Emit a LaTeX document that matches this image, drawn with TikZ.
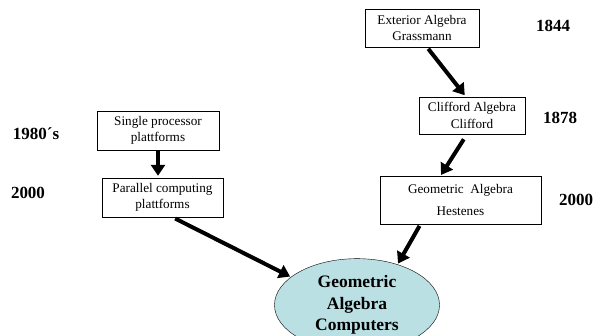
\documentclass[tikz,border=0pt]{standalone}
\usepackage{fontspec}
\setmainfont{Liberation Serif}
\usetikzlibrary{arrows.meta, positioning, shapes.geometric}
\definecolor{gacfill}{RGB}{186,224,228}
\tikzset{
    box/.style={draw, thin, fill=white, align=center, inner sep=1pt, font=\fontsize{13.2}{16.5}\selectfont},
    yearL/.style={font=\bfseries\fontsize{17}{19}\selectfont, inner sep=0pt},
    bareA/.style={line width=4pt, -{Triangle[length=11pt, width=14pt]}},
}
\begin{document}
\begin{tikzpicture}[x=1pt, y=-1pt]
    \useasboundingbox (0,0) rectangle (595,336);
    % right column
    \node[box, minimum width=114, minimum height=38] (ext) at (422,28) {Exterior Algebra\\Grassmann};
    \node[box, minimum width=106, minimum height=37] (cliff) at (472,115.5) {Clifford Algebra\\Clifford};
    \node[box, minimum width=161, minimum height=48, align=center] (hest) at (460.5,200) {Geometric\ \ Algebra\\[6pt]Hestenes};
    % left column
    \node[box, minimum width=122, minimum height=39] (single) at (158,130.5) {Single processor\\plattforms};
    \node[box, minimum width=121, minimum height=39] (para) at (162.5,197.5) {Parallel computing\\plattforms};
    % years
    \node[yearL] (y1844) at (553,26) {1844};
    \node[yearL] (y1878) at (560,118) {1878};
    \node[yearL] (y2000r) at (576,200) {2000};
    \node[yearL] (y1980) at (36,134) {1980´s};
    \node[yearL] (y2000l) at (28,193) {2000};
    % target
    \node[draw, thin, ellipse, fill=gacfill, minimum width=165, minimum height=76, align=center,
          font=\bfseries\fontsize{17.5}{21.5}\selectfont] (gac) at (357,305) {Geometric\\Algebra\\Computers};
    % arrows
    \draw[bareA, shorten <=2pt, shorten >=2pt] ([xshift=5]ext.south) -- ([xshift=-6]cliff.north);
    \draw[bareA, shorten >=2pt] (single.south) -- (single.south |- para.north);
    \draw[bareA, shorten <=6pt, shorten >=1pt] ([xshift=-5]cliff.south) -- ([xshift=-20]hest.north);
    \draw[bareA, shorten <=3pt, shorten >=1pt] ([xshift=10]para.south) -- (gac.157);
    \draw[bareA, shorten <=2pt, shorten >=1pt] ([xshift=-40]hest.south) -- (gac.45);
\end{tikzpicture}
\end{document}
